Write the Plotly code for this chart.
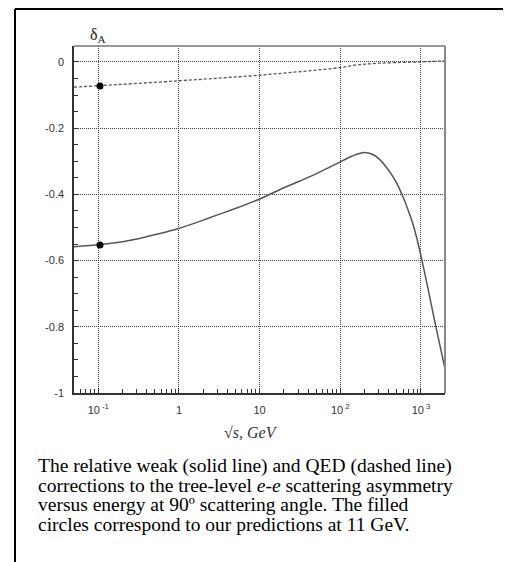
import plotly.graph_objects as go

# ---- data ----
weak_x = [0.05, 0.07, 0.1, 0.2, 0.3, 0.5, 1, 2, 3, 5, 10, 20, 30, 50, 100, 130, 160,
          200, 250, 300, 400, 500, 600, 700, 800, 900, 1000, 1200, 1500, 2000]
weak_y = [-0.558, -0.555, -0.552, -0.543, -0.535, -0.522, -0.503, -0.478, -0.462, -0.443,
          -0.414, -0.380, -0.362, -0.338, -0.302, -0.288, -0.279, -0.274, -0.279, -0.292,
          -0.328, -0.366, -0.408, -0.450, -0.492, -0.538, -0.586, -0.675, -0.79, -0.93]

qed_x = [0.05, 0.1, 1, 10, 100, 150, 200, 300, 500, 1000, 2000]
qed_y = [-0.076, -0.072, -0.057, -0.040, -0.017, -0.010, -0.007, -0.004, -0.002, 0.000, 0.003]

pred_x = [0.105, 0.105]
pred_y = [-0.073, -0.553]

x_tickvals = [0.1, 1, 10, 100, 1000]
x_ticktext = ["10<sup> -1</sup>", "1", "10", "10<sup> 2</sup>", "10<sup> 3</sup>"]
y_tickvals = [-1, -0.8, -0.6, -0.4, -0.2, 0]
y_ticktext = ["-1", "-0.8", "-0.6", "-0.4", "-0.2", "0"]

caption_lines = [
    "The relative weak (solid line) and QED (dashed line)",
    "corrections to the tree-level <i>e-e</i> scattering asymmetry",
    "versus energy at 90º scattering angle. The filled",
    "circles correspond to our predictions at 11 GeV.",
]

minor_x = [m * 10 ** e for e in range(-2, 4) for m in range(2, 10)]
minor_x = [v for v in minor_x if 0.05 < v < 1990 and v not in x_tickvals]

# ---- layout geometry (page pixels; the page body has an 8px margin) ----
OFF = 8
PW, PH = 511, 562
W, H = PW - OFF, PH - OFF
L, R, T, B = 74, 445, 46, 393          # plot area in page pixels
pw, ph = R - L, B - T


def px(xp):
    return (xp - L) / pw


def py(yp):
    return (B - yp) / ph


fig = go.Figure()
fig.add_trace(go.Scatter(x=qed_x, y=qed_y, mode="lines",
                         line=dict(color="#555", width=1.3, dash="3px,2px", shape="spline"),
                         showlegend=False, hoverinfo="skip"))
fig.add_trace(go.Scatter(x=weak_x, y=weak_y, mode="lines",
                         line=dict(color="#555", width=1.5, shape="spline", smoothing=0.5),
                         showlegend=False, hoverinfo="skip"))
fig.add_trace(go.Scatter(x=pred_x, y=pred_y, mode="markers",
                         marker=dict(color="black", size=7),
                         showlegend=False, hoverinfo="skip"))
# invisible trace on the minor-tick axis
fig.add_trace(go.Scatter(x=[0.1], y=[-2], xaxis="x2", mode="markers",
                         marker=dict(opacity=0), showlegend=False, hoverinfo="skip"))

axis_font = dict(family="Liberation Sans, Arial", size=11, color="#333")
grid_dash = "1px,1px"
fig.update_layout(
    width=W, height=H,
    margin=dict(l=L - OFF, r=PW - R, t=T - OFF, b=PH - B),
    paper_bgcolor="white", plot_bgcolor="white",
    xaxis=dict(type="log", range=[-1.301, 3.298],
               tickvals=x_tickvals, ticktext=x_ticktext,
               ticks="inside", ticklen=4, tickcolor="#333",
               showgrid=True, gridcolor="#444", griddash=grid_dash, gridwidth=1,
               showline=True, linecolor="#333", linewidth=1.5,
               zeroline=False, tickfont=axis_font, ticklabelstandoff=6),
    xaxis2=dict(type="log", range=[-1.301, 3.298], overlaying="x",
                tickvals=minor_x, ticks="inside", ticklen=4, tickcolor="#333",
                showticklabels=False, showgrid=False, showline=False,
                zeroline=False, anchor="y"),
    yaxis=dict(range=[-1, 0.048],
               tickvals=y_tickvals, ticktext=y_ticktext,
               ticks="inside", ticklen=4, tickcolor="#333",
               minor=dict(dtick=0.05, tick0=0, ticks="inside", ticklen=4,
                          tickcolor="#333", showgrid=False),
               showgrid=True, gridcolor="#444", griddash=grid_dash, gridwidth=1,
               showline=True, linecolor="#333", linewidth=1.5,
               zeroline=False, tickfont=axis_font, ticklabelstandoff=6),
)

shapes = [
    # top and right plot frame (gray)
    dict(type="line", xref="paper", yref="paper", x0=0, x1=1, y0=1, y1=1,
         line=dict(color="#777", width=1.5)),
    dict(type="line", xref="paper", yref="paper", x0=1, x1=1, y0=0, y1=1,
         line=dict(color="#888", width=2)),
    # outer page frame
    dict(type="line", xref="paper", yref="paper", x0=px(15), x1=px(15), y0=py(9), y1=py(PH + 5),
         line=dict(color="black", width=2)),
    dict(type="line", xref="paper", yref="paper", x0=px(15), x1=px(PW + 5), y0=py(9), y1=py(9),
         line=dict(color="black", width=2)),
]
fig.update_layout(shapes=shapes)

serif = "Liberation Serif, Times New Roman"
ann = [
    dict(x=px(98), y=py(35), xref="paper", yref="paper", showarrow=False,
         xanchor="center", yanchor="middle",
         text="δ<sub>A</sub>", font=dict(family=serif, size=16, color="#222")),
    dict(x=px(251), y=py(432.5), xref="paper", yref="paper", showarrow=False,
         xanchor="center", yanchor="middle",
         text="√<i>s, GeV</i>", font=dict(family=serif, size=16, color="#333")),
]
centers = [466, 485.3, 504.6, 524]
for line, c in zip(caption_lines, centers):
    ann.append(dict(x=px(36), y=py(c), xref="paper", yref="paper", showarrow=False,
                    xanchor="left", yanchor="middle", text=line,
                    font=dict(family=serif, size=19.5, color="black")))
fig.update_layout(annotations=ann)

fig.write_html("out.html")
